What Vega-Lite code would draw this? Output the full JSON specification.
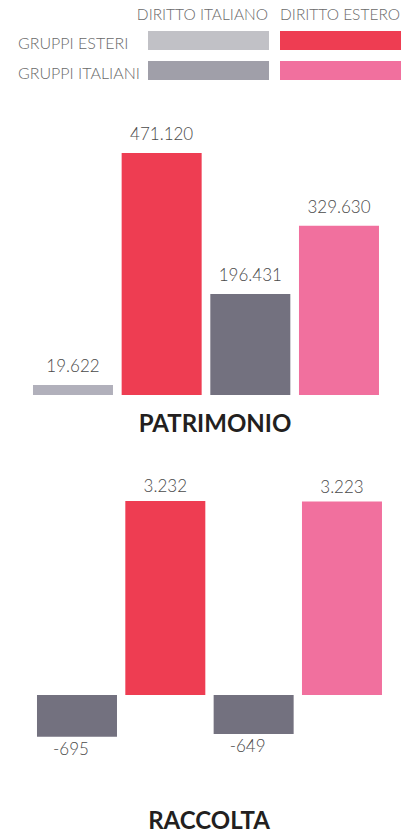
{
  "$schema": "https://vega.github.io/schema/vega-lite/v6.json",
  "background": "white",
  "padding": 0,
  "spacing": 0,
  "bounds": "flush",
  "config": {
    "view": {"stroke": null},
    "font": "Lato",
    "locale": {"number": {"decimal": ",", "thousands": ".", "grouping": [3], "currency": ["", " €"], "minus": "-"}}
  },
  "resolve": {"scale": {"color": "independent"}},
  "datasets": {
    "legenda": [
      {"gruppo": "GRUPPI ESTERI", "diritto": "DIRITTO ITALIANO", "serie": "GE-DI"},
      {"gruppo": "GRUPPI ESTERI", "diritto": "DIRITTO ESTERO", "serie": "GE-DE"},
      {"gruppo": "GRUPPI ITALIANI", "diritto": "DIRITTO ITALIANO", "serie": "GI-DI"},
      {"gruppo": "GRUPPI ITALIANI", "diritto": "DIRITTO ESTERO", "serie": "GI-DE"}
    ],
    "valori": [
      {"pannello": "PATRIMONIO", "serie": "GE-DI", "valore": 19622},
      {"pannello": "PATRIMONIO", "serie": "GE-DE", "valore": 471120},
      {"pannello": "PATRIMONIO", "serie": "GI-DI", "valore": 196431},
      {"pannello": "PATRIMONIO", "serie": "GI-DE", "valore": 329630},
      {"pannello": "RACCOLTA", "serie": "GE-DI", "valore": -695},
      {"pannello": "RACCOLTA", "serie": "GE-DE", "valore": 3232},
      {"pannello": "RACCOLTA", "serie": "GI-DI", "valore": -649},
      {"pannello": "RACCOLTA", "serie": "GI-DE", "valore": 3223}
    ]
  },
  "vconcat": [
    {
      "data": {"name": "legenda"},
      "width": 408,
      "height": 100,
      "layer": [
        {
          "mark": {"type": "rect"},
          "encoding": {
            "x": {"field": "diritto", "type": "nominal", "axis": null,
              "scale": {"type": "band", "domain": ["GRUPPO", "DIRITTO ITALIANO", "DIRITTO ESTERO"], "paddingInner": 0.0833, "paddingOuter": 0.0871, "align": 0.696}},
            "y": {"field": "gruppo", "type": "nominal", "axis": null,
              "scale": {"type": "band", "domain": ["INTESTAZIONE", "GRUPPI ESTERI", "GRUPPI ITALIANI"], "paddingInner": 0.367, "paddingOuter": 0.35, "align": 0.05}},
            "color": {"field": "serie", "type": "nominal", "legend": null,
              "scale": {"domain": ["GE-DI", "GE-DE", "GI-DI", "GI-DE"], "range": ["#c1c1c6", "#ee3d52", "#a09fa9", "#f1709e"]}}
          }
        },
        {
          "transform": [{"filter": "datum.diritto === 'DIRITTO ITALIANO'"}],
          "mark": {"type": "text", "align": "left", "baseline": "middle", "dx": 2, "dy": 3, "fontSize": 16, "fontWeight": 300, "color": "#6a6a6a", "fill": "#6a6a6a"},
          "encoding": {
            "x": {"datum": "GRUPPO", "bandPosition": 0},
            "y": {"field": "gruppo", "type": "nominal"},
            "text": {"field": "gruppo", "type": "nominal"}
          }
        },
        {
          "transform": [{"filter": "datum.gruppo === 'GRUPPI ESTERI'"}],
          "mark": {"type": "text", "align": "right", "baseline": "middle", "dx": -1, "dy": 4, "fontSize": 15.5, "fontWeight": 300, "color": "#6a6a6a", "fill": "#6a6a6a"},
          "encoding": {
            "x": {"field": "diritto", "type": "nominal", "bandPosition": 1},
            "y": {"datum": "INTESTAZIONE"},
            "text": {"field": "diritto", "type": "nominal"}
          }
        }
      ]
    },
    {
      "data": {"name": "valori"},
      "transform": [{"filter": "datum.pannello === 'PATRIMONIO'"}],
      "width": 408,
      "height": 295,
      "title": {"text": "PATRIMONIO", "orient": "bottom", "anchor": "middle", "fontSize": 24, "fontWeight": "bold", "color": "#231f20", "offset": 18, "dx": 11, "font": "Lato"},
      "encoding": {
        "x": {"field": "serie", "type": "nominal", "axis": null, "sort": ["GE-DI", "GE-DE", "GI-DI", "GI-DE"],
          "scale": {"type": "band", "domain": ["GE-DI", "GE-DE", "GI-DI", "GI-DE"], "paddingInner": 0.0977, "paddingOuter": 0.3496, "align": 0.532}},
        "y": {"field": "valore", "type": "quantitative", "axis": null, "scale": {"domain": [0, 574300], "nice": false}}
      },
      "layer": [
        {
          "mark": {"type": "bar"},
          "encoding": {
            "color": {"condition": {"test": "datum.valore < 0", "value": "#73717f"}, "field": "serie", "type": "nominal", "legend": null,
              "scale": {"domain": ["GE-DI", "GE-DE", "GI-DI", "GI-DE"], "range": ["#b1b0bb", "#ee3d52", "#73717f", "#f1709e"]}}
          }
        },
        {
          "mark": {"type": "text", "baseline": "alphabetic", "dy": -13, "fontSize": 17, "fontWeight": 300, "color": "#4a4a4a"},
          "encoding": {"text": {"field": "valore", "type": "quantitative", "format": ",.0f"}}
        }
      ]
    },
    {
      "data": {"name": "valori"},
      "transform": [{"filter": "datum.pannello === 'RACCOLTA'"}],
      "width": 408,
      "height": 385,
      "title": {"text": "RACCOLTA", "orient": "bottom", "anchor": "middle", "fontSize": 24, "fontWeight": "bold", "color": "#231f20", "offset": 30, "dx": 5, "font": "Lato"},
      "encoding": {
        "x": {"field": "serie", "type": "nominal", "axis": null, "sort": ["GE-DI", "GE-DE", "GI-DI", "GI-DE"],
          "scale": {"type": "band", "domain": ["GE-DI", "GE-DE", "GI-DI", "GI-DE"], "paddingInner": 0.0943, "paddingOuter": 0.3567, "align": 0.587}},
        "y": {"field": "valore", "type": "quantitative", "axis": null, "scale": {"domain": [-1416, 4998], "nice": false}}
      },
      "layer": [
        {
          "mark": {"type": "bar"},
          "encoding": {
            "color": {"condition": {"test": "datum.valore < 0", "value": "#73717f"}, "field": "serie", "type": "nominal", "legend": null,
              "scale": {"domain": ["GE-DI", "GE-DE", "GI-DI", "GI-DE"], "range": ["#b1b0bb", "#ee3d52", "#73717f", "#f1709e"]}}
          }
        },
        {
          "transform": [{"filter": "datum.valore >= 0"}],
          "mark": {"type": "text", "baseline": "alphabetic", "dy": -9, "fontSize": 17, "fontWeight": 300, "color": "#4a4a4a"},
          "encoding": {"text": {"field": "valore", "type": "quantitative", "format": ",.0f"}}
        },
        {
          "transform": [{"filter": "datum.valore < 0"}],
          "mark": {"type": "text", "baseline": "top", "dy": 5, "dx": -6, "fontSize": 17, "fontWeight": 300, "color": "#4a4a4a"},
          "encoding": {"text": {"field": "valore", "type": "quantitative", "format": ",.0f"}}
        }
      ]
    }
  ]
}
